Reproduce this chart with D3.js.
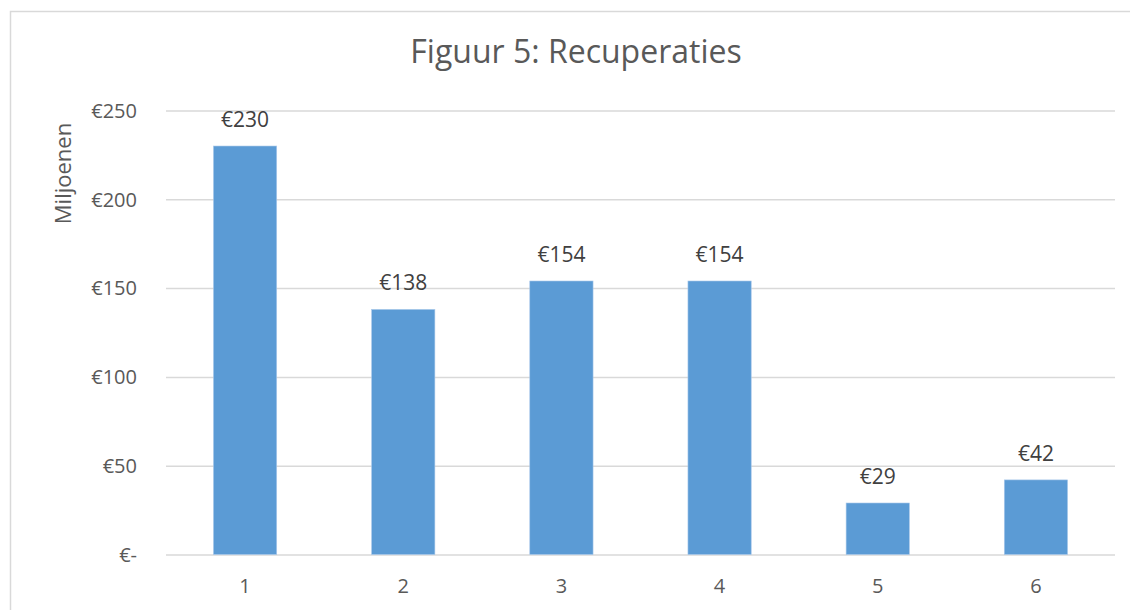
<!DOCTYPE html>
<meta charset="utf-8">
<head>
  <title>Figuur 5: Recuperaties</title>
</head>
<style>
body {
  margin: 0;
  background: #fff;
  font-family: "Open Sans", sans-serif;
}
.grid line { stroke: #d9d9d9; stroke-width: 1.5px; }
.grid path { display: none; }
text { fill: #595959; }
</style>
<body>
<svg width="1130" height="610"></svg>
<script src="https://cdnjs.cloudflare.com/ajax/libs/d3/7.8.5/d3.min.js"></script>
<script>
var categories = ["1", "2", "3", "4", "5", "6"];
var values = [230, 138, 154, 154, 29, 42];
var yTicks = [0, 50, 100, 150, 200, 250];
var yTickLabels = ["€-", "€50", "€100", "€150", "€200", "€250"];

var svg = d3.select("svg");

// outer chart border, runs off the right and bottom edge
svg.append("rect")
  .attr("x", 10.5).attr("y", 11.5)
  .attr("width", 1140).attr("height", 620)
  .attr("fill", "none")
  .attr("stroke", "#d9d9d9")
  .attr("stroke-width", 1.5);

var plotLeft = 166, plotRight = 1115, plotTop = 110.5, plotBottom = 554.5;

var x = d3.scaleBand()
  .domain(categories)
  .range([plotLeft, plotRight])
  .paddingInner(0.6)
  .paddingOuter(0.3);

var y = d3.scaleLinear()
  .domain([0, 250])
  .range([plotBottom, plotTop]);

// gridlines
svg.append("g")
  .attr("class", "grid")
  .attr("transform", "translate(" + plotLeft + ",0)")
  .call(d3.axisLeft(y).tickValues(yTicks).tickSize(-(plotRight - plotLeft)).tickFormat(""));

// y tick labels
svg.append("g")
  .selectAll("text")
  .data(yTicks)
  .join("text")
  .attr("x", 137)
  .attr("y", d => y(d))
  .attr("dy", "0.36em")
  .attr("text-anchor", "end")
  .attr("font-size", 20)
  .text((d, i) => yTickLabels[i]);

// bars
svg.append("g")
  .selectAll("rect")
  .data(values)
  .join("rect")
  .attr("x", (d, i) => x(categories[i]))
  .attr("y", d => y(d))
  .attr("width", x.bandwidth())
  .attr("height", d => y(0) - y(d))
  .attr("fill", "#5b9bd5")
  .attr("stroke", "#a9c8ea")
  .attr("stroke-width", 0.6);

// data labels
svg.append("g")
  .selectAll("text")
  .data(values)
  .join("text")
  .attr("x", (d, i) => x(categories[i]) + x.bandwidth() / 2)
  .attr("y", d => y(d) - 19)
  .attr("text-anchor", "middle")
  .attr("font-size", 21)
  .style("fill", "#404040")
  .text(d => "€" + d);

// category labels
svg.append("g")
  .selectAll("text")
  .data(categories)
  .join("text")
  .attr("x", d => x(d) + x.bandwidth() / 2)
  .attr("y", 593)
  .attr("text-anchor", "middle")
  .attr("font-size", 20)
  .text(d => d);

// axis title
svg.append("text")
  .attr("transform", "translate(71,173.5) rotate(-90)")
  .attr("text-anchor", "middle")
  .attr("font-size", 22)
  .text("Miljoenen");

// title
svg.append("text")
  .attr("x", 576)
  .attr("y", 63)
  .attr("text-anchor", "middle")
  .attr("font-size", 32)
  .text("Figuur 5: Recuperaties");
</script>
</body>
